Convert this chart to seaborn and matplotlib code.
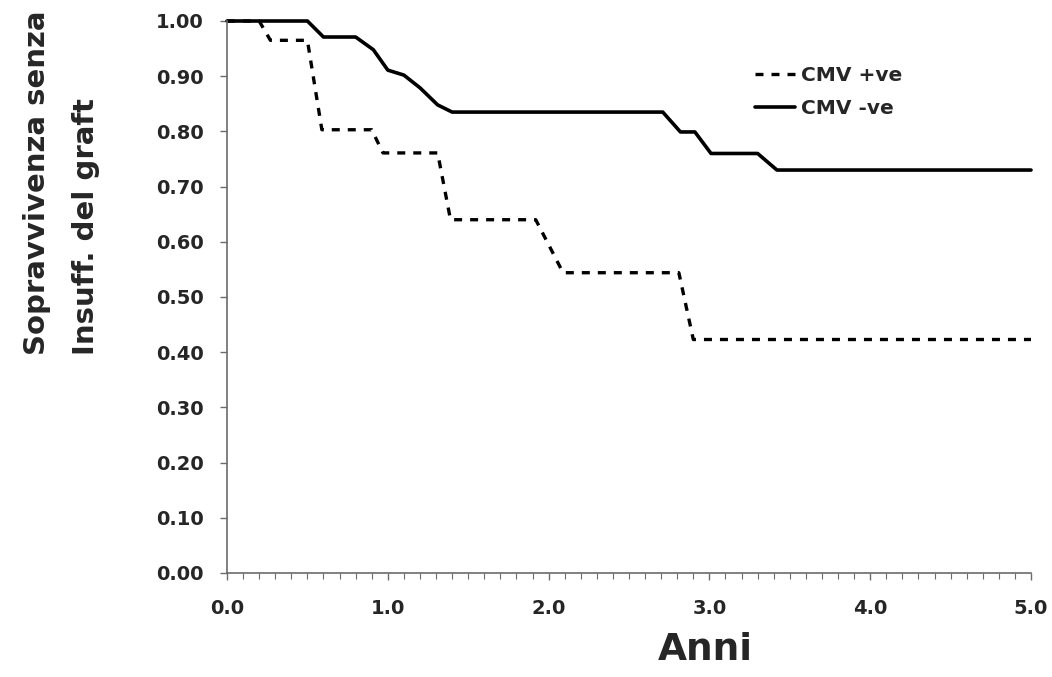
import pandas as pd
import numpy as np
import matplotlib
matplotlib.use('Agg')
import matplotlib.pyplot as plt
import seaborn as sns

# Kaplan-Meier style curves (vertices of the drawn polyline)
years_pos = [0.0, 0.20, 0.27, 0.50, 0.59, 0.90, 0.97, 1.31, 1.39, 1.92, 2.09, 2.81, 2.90, 5.0]
surv_pos = [1.0, 1.0, 0.965, 0.965, 0.803, 0.803, 0.761, 0.761, 0.640, 0.640, 0.544, 0.544, 0.423, 0.423]

years_neg = [0.0, 0.50, 0.60, 0.80, 0.91, 1.00, 1.10, 1.20, 1.31, 1.40, 2.71, 2.82, 2.91, 3.01, 3.30, 3.42, 5.0]
surv_neg = [1.0, 1.0, 0.971, 0.971, 0.948, 0.911, 0.902, 0.879, 0.848, 0.835, 0.835, 0.799, 0.799, 0.760, 0.760, 0.730, 0.730]

labels = ['CMV +ve', 'CMV -ve']
y_ticks = np.round(np.arange(0, 1.01, 0.1), 2)
x_ticks = [0, 1, 2, 3, 4, 5]

sns.set_style('ticks')
plt.rcParams['font.family'] = ['DejaVu Sans']
plt.rcParams['xtick.major.pad'] = 14
plt.rcParams['ytick.major.pad'] = 12

fig = plt.figure(figsize=(10.52, 6.77), dpi=100)
ax = fig.add_axes([227 / 1052, 1 - 573 / 677, (1031 - 227) / 1052, (573 - 21) / 677])

df_pos = pd.DataFrame({'Anni': years_pos, 'Sopravvivenza': surv_pos})
df_neg = pd.DataFrame({'Anni': years_neg, 'Sopravvivenza': surv_neg})

sns.lineplot(data=df_pos, x='Anni', y='Sopravvivenza', ax=ax, color='black',
             linewidth=2.4, linestyle=(0, (2.4, 2.4)), sort=False, estimator=None,
             label=labels[0], clip_on=False)
sns.lineplot(data=df_neg, x='Anni', y='Sopravvivenza', ax=ax, color='black',
             linewidth=2.6, sort=False, estimator=None, label=labels[1], clip_on=False)

ax.set_xlim(0, 5)
ax.set_ylim(0, 1.0)
ax.set_xticks(x_ticks)
ax.set_xticklabels([f'{v:.1f}' for v in x_ticks])
ax.set_xticks(np.arange(0, 5.01, 0.1), minor=True)
ax.set_yticks(y_ticks)
ax.set_yticklabels([f'{v:.2f}' for v in y_ticks])
ax.set_xlabel('')
ax.set_ylabel('')

sns.despine(ax=ax)
for side in ['left', 'bottom']:
    ax.spines[side].set_color('#6b6b6b')
    ax.spines[side].set_linewidth(1.2)

ax.tick_params(axis='y', which='major', length=5, width=1, color='#6b6b6b', labelsize=14)
ax.tick_params(axis='x', which='major', length=5, width=1, color='#6b6b6b', labelsize=14)
ax.tick_params(axis='x', which='minor', length=4, width=0.8, color='#6b6b6b')
for lab in ax.get_xticklabels() + ax.get_yticklabels():
    lab.set_fontweight('bold')

leg = ax.legend(loc='upper left', bbox_to_anchor=(755 / 1052, 1 - 66 / 677),
                bbox_transform=fig.transFigure, frameon=False, borderpad=0,
                borderaxespad=0, handlelength=2.0, handletextpad=0.3,
                labelspacing=0.7, prop={'weight': 'bold', 'size': 14.5})

fig.text(37 / 1052, 1 - 355 / 677, 'Sopravvivenza senza', rotation=90,
         ha='center', va='bottom', fontsize=21, fontweight='bold')
fig.text(86 / 1052, 1 - 355 / 677, 'Insuff. del graft', rotation=90,
         ha='center', va='bottom', fontsize=21, fontweight='bold')
fig.text(705 / 1052, 1 - 650 / 677, 'Anni', ha='center', va='center',
         fontsize=27, fontweight='bold')

fig.savefig('out.png', dpi=100)
